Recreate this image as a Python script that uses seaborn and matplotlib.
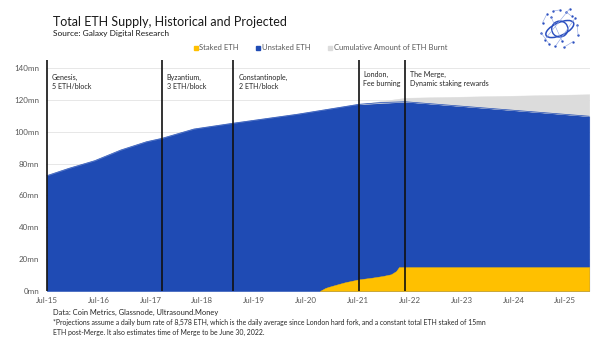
import matplotlib
matplotlib.use("Agg")
import matplotlib.pyplot as plt
from matplotlib.lines import Line2D
from matplotlib.patches import Ellipse
import seaborn as sns
import pandas as pd

sns.set_theme(style="white")
plt.rcParams['font.family'] = ['Lato', 'DejaVu Sans']

# ---------------- data ----------------
supply_dates = ["2015-07-30", "2016-01-01", "2016-07-01", "2017-01-01", "2017-07-01",
                "2017-10-16", "2018-06-01", "2019-02-28", "2020-06-01", "2021-08-05",
                "2022-01-15", "2022-06-30", "2026-01-15"]
total_supply = [72.4, 77.0, 81.8, 88.5, 93.7, 95.8, 101.7, 105.3, 111.0, 117.2,
                118.3, 118.8, 109.7]

burn_dates = ["2021-08-05", "2022-06-30", "2026-01-15"]
issuance_no_burn = [117.2, 121.3, 123.5]
burn_supply = [117.2, 118.8, 109.7]

staked_dates = ["2020-11-04", "2020-12-10", "2021-01-01", "2021-03-01", "2021-05-01",
                "2021-08-05", "2021-11-01", "2022-01-20", "2022-03-20", "2022-04-25",
                "2022-05-15", "2022-06-30", "2026-01-15"]
staked = [0.0, 1.8, 2.5, 4.0, 5.5, 7.3, 8.3, 9.4, 10.5, 12.5, 15.0, 15.0, 15.0]

events = ["2015-07-30", "2017-10-16", "2019-02-28", "2021-08-05", "2022-06-30"]
event_labels = ["Genesis,\n5 ETH/block", "Byzantium,\n3 ETH/block",
                "Constantinople,\n2 ETH/block", "London,\nFee burning",
                "The Merge,\nDynamic staking rewards"]

tick_years = list(range(2015, 2026))
y_ticks = [0, 20, 40, 60, 80, 100, 120, 140]

# ---------------- styles ----------------
BLUE = "#1f4bb4"
YELLOW = "#ffc000"
GREY = "#dcdcdc"
TXT = "#595959"

sup = pd.DataFrame({"date": pd.to_datetime(supply_dates), "v": total_supply})
brn = pd.DataFrame({"date": pd.to_datetime(burn_dates), "top": issuance_no_burn, "bot": burn_supply})
stk = pd.DataFrame({"date": pd.to_datetime(staked_dates), "v": staked})

fig = plt.figure(figsize=(6.0, 3.54), dpi=100)
ax = fig.add_axes([0.0767, 0.178, 0.9066, 0.6525])

ax.fill_between(sup["date"], 0, sup["v"], facecolor=BLUE, edgecolor=BLUE, lw=0.4, zorder=2)
ax.fill_between(brn["date"], brn["bot"], brn["top"], facecolor=GREY, edgecolor=GREY, lw=0.3, zorder=2)
ax.fill_between(stk["date"], 0, stk["v"], facecolor=YELLOW, edgecolor=YELLOW, lw=0.3, zorder=3)
sns.lineplot(data=sup, x="date", y="v", ax=ax, color=BLUE, lw=0.5, zorder=3)

for d in events:
    ax.axvline(pd.Timestamp(d), color="#111111", lw=1.2, zorder=5)

offs = [3.5, 3.5, 4.5, 3.2, 3.5]
tops = [136.0, 136.0, 136.0, 138.2, 138.2]
for d, lab, o, t in zip(events, event_labels, offs, tops):
    ax.annotate(lab, xy=(pd.Timestamp(d), t), xytext=(o, 0), textcoords="offset points",
                ha="left", va="top", fontsize=5.1, color="#262626", linespacing=1.3, zorder=6)

ax.set_xlim(pd.Timestamp("2015-07-24"), pd.Timestamp("2026-01-20"))
ax.set_ylim(0, 145)
ax.set_xticks([pd.Timestamp(f"{y}-07-30") for y in tick_years])
ax.set_xticklabels([f"Jul-{y % 100:02d}" for y in tick_years])
ax.set_yticks(y_ticks)
ax.set_yticklabels([f"{v}mn" for v in y_ticks])
ax.tick_params(axis="y", length=0, labelsize=5.8, colors=TXT, pad=5)
ax.tick_params(axis="x", length=0, labelsize=5.8, colors=TXT, pad=4.5)
ax.set_xlabel("")
ax.set_ylabel("")
ax.grid(axis="y", color="#e3e3e3", lw=0.6, zorder=0)
ax.set_axisbelow(True)
for s in ax.spines.values():
    s.set_visible(False)

# legend
handles = [Line2D([], [], marker="s", ls="", color=YELLOW, markersize=2.8, label="Staked ETH"),
           Line2D([], [], marker="s", ls="", color=BLUE, markersize=2.8, label="Unstaked ETH"),
           Line2D([], [], marker="s", ls="", color=GREY, markersize=2.8, label="Cumulative Amount of ETH Burnt")]
leg = fig.legend(handles=handles, loc="center", bbox_to_anchor=(0.533, 0.865), ncol=3,
                 frameon=False, fontsize=5.5, handletextpad=0.1, columnspacing=2.1,
                 handlelength=0.8)
for t in leg.get_texts():
    t.set_color(TXT)

# titles and notes
fig.text(0.088, 0.938, "Total ETH Supply, Historical and Projected", fontsize=9.0,
         color="#1a1a1a", ha="left", va="center")
fig.text(0.088, 0.905, "Source: Galaxy Digital Research", fontsize=6.0,
         color="#1a1a1a", ha="left", va="center")
fig.text(0.088, 0.116, "Data: Coin Metrics, Glassnode, Ultrasound.Money", fontsize=5.4,
         color="#262626", ha="left", va="center")
fig.text(0.088, 0.088,
         "*Projections assume a daily burn rate of 8,578 ETH, which is the daily average since London hard fork, and a constant total ETH staked of 15mn",
         fontsize=4.95, color="#262626", ha="left", va="center")
fig.text(0.088, 0.060,
         "ETH post-Merge. It also estimates time of Merge to be June 30, 2022.",
         fontsize=4.95, color="#262626", ha="left", va="center")

# logo
lx = fig.add_axes([0.897, 0.858, 0.072, 0.12])
lx.set_xlim(-1, 1); lx.set_ylim(-1, 1); lx.axis("off")
lx.add_patch(Ellipse((0, 0), 1.4, 0.6, angle=25, fill=False, ec="#2b4fbf", lw=1.1))
lx.add_patch(Ellipse((0, 0), 0.75, 0.75, fill=False, ec="#2b4fbf", lw=1.0))
dots_x = [-0.8, -0.6, -0.3, 0.0, 0.3, 0.55, 0.8, 0.85, -0.85, -0.5, 0.6, 0.2, -0.2, 0.7, -0.7, 0.45, -0.4, 0.1]
dots_y = [0.3, 0.7, 0.85, 0.9, 0.8, 0.6, 0.2, -0.3, -0.2, -0.7, -0.6, -0.85, -0.8, 0.5, -0.5, 0.95, 0.55, -0.55]
lx.scatter(dots_x, dots_y, s=3, color="#2b4fbf", lw=0)
for i in range(0, len(dots_x) - 1, 2):
    lx.plot(dots_x[i:i + 2], dots_y[i:i + 2], color="#8aa0e0", lw=0.4)

fig.savefig("out.png", dpi=100)
